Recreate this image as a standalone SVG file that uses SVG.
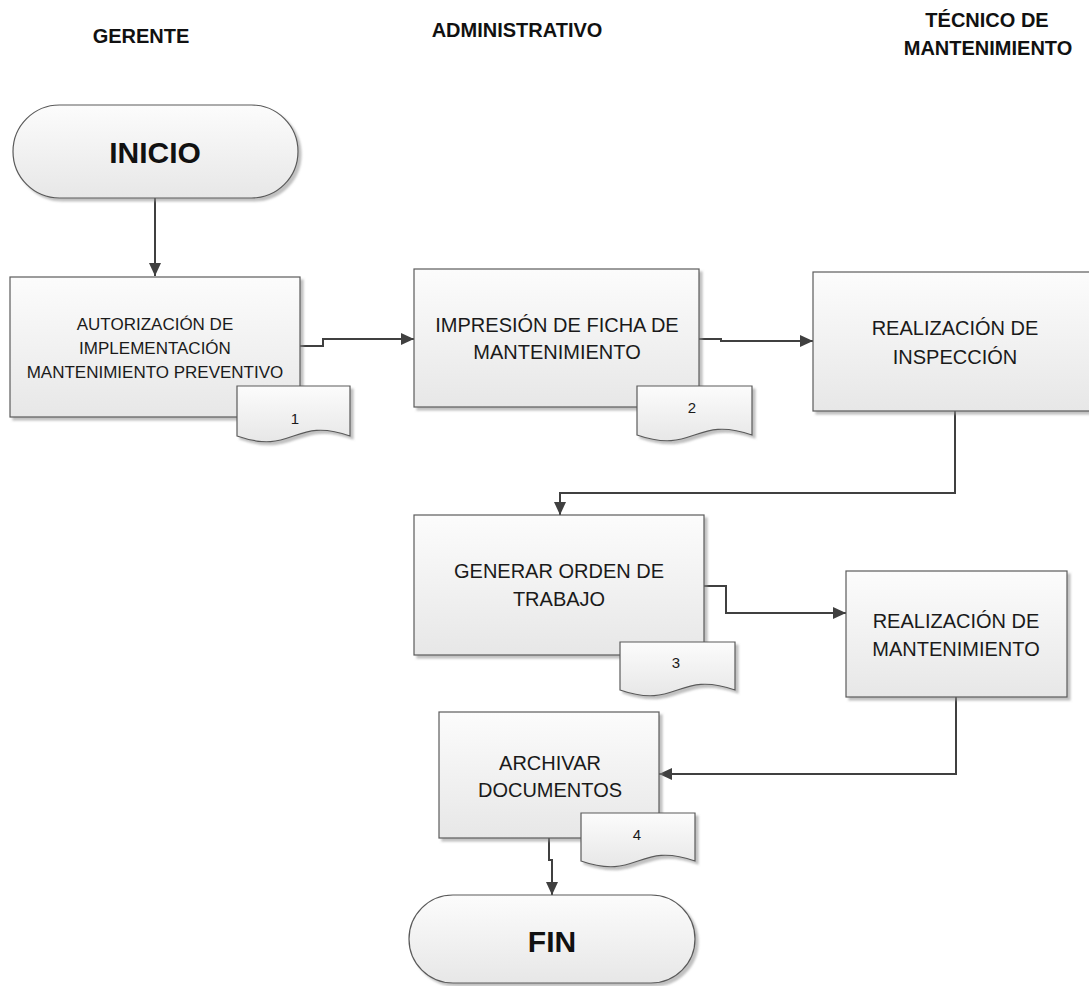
<svg xmlns="http://www.w3.org/2000/svg" width="1089" height="986" viewBox="0 0 1089 986">
  <defs>
    <linearGradient id="fillGrad" x1="0" y1="0" x2="0" y2="1">
      <stop offset="0" stop-color="#fcfcfc"/>
      <stop offset="1" stop-color="#e7e7e7"/>
    </linearGradient>
    <filter id="shadow" x="-10%" y="-10%" width="125%" height="130%">
      <feDropShadow dx="3" dy="3" stdDeviation="1.2" flood-color="#8c8c8c" flood-opacity="0.55"/>
    </filter>
    <marker id="arrow" markerUnits="userSpaceOnUse" markerWidth="14" markerHeight="12" refX="13" refY="6" orient="auto">
      <path d="M0,0 L13,6 L0,12 Z" fill="#404040"/>
    </marker>
    <style>
      .shape { fill: url(#fillGrad); stroke: #5a5a5a; stroke-width: 1.2; filter: url(#shadow); }
      .lane { font-family: "Liberation Sans", Arial, sans-serif; font-weight: bold; font-size: 20px; fill: #111; text-anchor: middle; }
      .term { font-family: "Liberation Sans", Arial, sans-serif; font-weight: bold; font-size: 30px; fill: #111; text-anchor: middle; }
      .label { font-family: "Liberation Sans", Arial, sans-serif; font-size: 20px; fill: #1a1a1a; text-anchor: middle; }
      .small { font-size: 17px; }
      .num { font-family: "Liberation Sans", Arial, sans-serif; font-size: 15px; fill: #1a1a1a; text-anchor: middle; }
      .conn { fill: none; stroke: #404040; stroke-width: 2; marker-end: url(#arrow); }
    </style>
  </defs>

  <rect width="1089" height="986" fill="#ffffff"/>

  <!-- Lane headers -->
  <g id="lanes">
    <text class="lane" x="141" y="43">GERENTE</text>
    <text class="lane" x="517" y="37">ADMINISTRATIVO</text>
    <text class="lane" x="987" y="27">TÉCNICO DE</text>
    <text class="lane" x="988" y="55">MANTENIMIENTO</text>
  </g>

  <!-- Connectors -->
  <g id="connectors">
    <path class="conn" d="M155,198 V276"/>
    <path class="conn" d="M300,346 H323 V339 H414"/>
    <path class="conn" d="M699,339 H721 V341 H813"/>
    <path class="conn" d="M955,411 V493 H560 V515"/>
    <path class="conn" d="M704,586 H726 V613 H846"/>
    <path class="conn" d="M956,697 V774 H659"/>
    <path class="conn" d="M549,838 V860 H552 V895"/>
  </g>

  <g id="inicio">
    <rect class="shape" x="13" y="105" width="285" height="93" rx="46.5" ry="46.5"/>
    <text class="term" x="155" y="163">INICIO</text>
  </g>

  <g id="autorizacion">
    <rect class="shape" x="10" y="277" width="290" height="140"/>
    <text class="label small" x="155" y="330">AUTORIZACIÓN DE</text>
    <text class="label small" x="155" y="354">IMPLEMENTACIÓN</text>
    <text class="label small" x="155" y="378">MANTENIMIENTO PREVENTIVO</text>
  </g>

  <g id="doc1">
    <path class="shape" d="M237,386 H350 V436 C293.5,416 293.5,456 237,436 Z"/>
    <text class="num" x="295" y="424">1</text>
  </g>

  <g id="impresion">
    <rect class="shape" x="414" y="269" width="285" height="138"/>
    <text class="label" x="557" y="332">IMPRESIÓN DE FICHA DE</text>
    <text class="label" x="557" y="359">MANTENIMIENTO</text>
  </g>

  <g id="doc2">
    <path class="shape" d="M637,386 H752 V435 C694.5,415 694.5,455 637,435 Z"/>
    <text class="num" x="692" y="413">2</text>
  </g>

  <g id="inspeccion">
    <rect class="shape" x="813" y="272" width="284" height="139"/>
    <text class="label" x="955" y="335">REALIZACIÓN DE</text>
    <text class="label" x="955" y="364">INSPECCIÓN</text>
  </g>

  <g id="orden">
    <rect class="shape" x="414" y="515" width="290" height="140"/>
    <text class="label" x="559" y="578">GENERAR ORDEN DE</text>
    <text class="label" x="559" y="606">TRABAJO</text>
  </g>

  <g id="doc3">
    <path class="shape" d="M620,642 H735 V690 C677.5,670 677.5,710 620,690 Z"/>
    <text class="num" x="676" y="668">3</text>
  </g>

  <g id="mantenimiento">
    <rect class="shape" x="846" y="571" width="221" height="126"/>
    <text class="label" x="956" y="628">REALIZACIÓN DE</text>
    <text class="label" x="956" y="656">MANTENIMIENTO</text>
  </g>

  <g id="archivar">
    <rect class="shape" x="439" y="712" width="220" height="126"/>
    <text class="label" x="550" y="770">ARCHIVAR</text>
    <text class="label" x="550" y="797">DOCUMENTOS</text>
  </g>

  <g id="doc4">
    <path class="shape" d="M581,813 H695 V861 C638,841 638,881 581,861 Z"/>
    <text class="num" x="637" y="840" font-size="12">4</text>
  </g>

  <g id="fin">
    <rect class="shape" x="409" y="895" width="286" height="88" rx="44" ry="44"/>
    <text class="term" x="552" y="952">FIN</text>
  </g>
</svg>
